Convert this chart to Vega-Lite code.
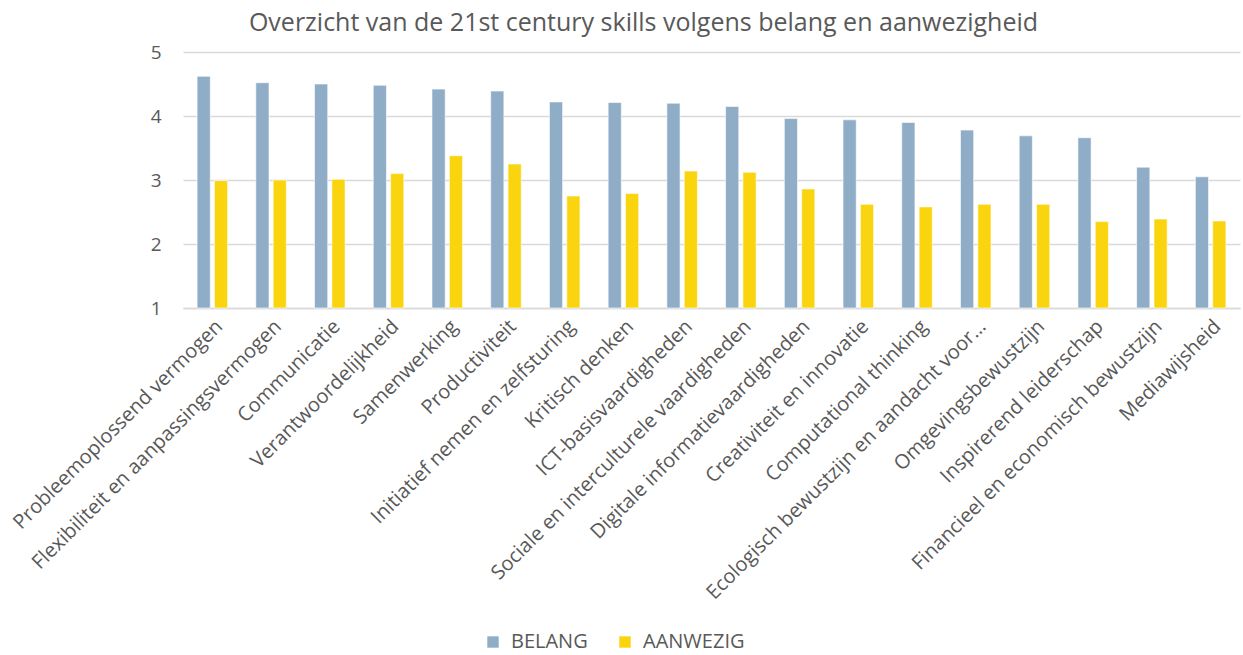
{
  "$schema": "https://vega.github.io/schema/vega-lite/v6.json",
  "autosize": {"type": "none"},
  "width": 1057,
  "height": 256,
  "padding": {"left": 183, "top": 52, "right": 3, "bottom": 347},
  "background": "white",
  "config": {
    "view": {"stroke": null},
    "font": "Open Sans"
  },
  "title": {
    "text": "Overzicht van de 21st century skills volgens belang en aanwezigheid",
    "fontSize": 25,
    "fontWeight": "normal",
    "color": "#595959",
    "font": "Open Sans",
    "anchor": "middle",
    "frame": "group",
    "dx": -68,
    "offset": 7
  },
  "data": {
    "values": [
      {"skill": "Probleemoplossend vermogen", "reeks": "BELANG", "waarde": 4.62},
      {"skill": "Probleemoplossend vermogen", "reeks": "AANWEZIG", "waarde": 2.99},
      {"skill": "Flexibiliteit en aanpassingsvermogen", "reeks": "BELANG", "waarde": 4.52},
      {"skill": "Flexibiliteit en aanpassingsvermogen", "reeks": "AANWEZIG", "waarde": 3.0},
      {"skill": "Communicatie", "reeks": "BELANG", "waarde": 4.5},
      {"skill": "Communicatie", "reeks": "AANWEZIG", "waarde": 3.01},
      {"skill": "Verantwoordelijkheid", "reeks": "BELANG", "waarde": 4.48},
      {"skill": "Verantwoordelijkheid", "reeks": "AANWEZIG", "waarde": 3.1},
      {"skill": "Samenwerking", "reeks": "BELANG", "waarde": 4.42},
      {"skill": "Samenwerking", "reeks": "AANWEZIG", "waarde": 3.38},
      {"skill": "Productiviteit", "reeks": "BELANG", "waarde": 4.39},
      {"skill": "Productiviteit", "reeks": "AANWEZIG", "waarde": 3.25},
      {"skill": "Initiatief nemen en zelfsturing", "reeks": "BELANG", "waarde": 4.22},
      {"skill": "Initiatief nemen en zelfsturing", "reeks": "AANWEZIG", "waarde": 2.75},
      {"skill": "Kritisch denken", "reeks": "BELANG", "waarde": 4.21},
      {"skill": "Kritisch denken", "reeks": "AANWEZIG", "waarde": 2.79},
      {"skill": "ICT-basisvaardigheden", "reeks": "BELANG", "waarde": 4.2},
      {"skill": "ICT-basisvaardigheden", "reeks": "AANWEZIG", "waarde": 3.14},
      {"skill": "Sociale en interculturele vaardigheden", "reeks": "BELANG", "waarde": 4.15},
      {"skill": "Sociale en interculturele vaardigheden", "reeks": "AANWEZIG", "waarde": 3.12},
      {"skill": "Digitale informatievaardigheden", "reeks": "BELANG", "waarde": 3.96},
      {"skill": "Digitale informatievaardigheden", "reeks": "AANWEZIG", "waarde": 2.86},
      {"skill": "Creativiteit en innovatie", "reeks": "BELANG", "waarde": 3.94},
      {"skill": "Creativiteit en innovatie", "reeks": "AANWEZIG", "waarde": 2.62},
      {"skill": "Computational thinking", "reeks": "BELANG", "waarde": 3.9},
      {"skill": "Computational thinking", "reeks": "AANWEZIG", "waarde": 2.58},
      {"skill": "Ecologisch bewustzijn en aandacht voor…", "reeks": "BELANG", "waarde": 3.78},
      {"skill": "Ecologisch bewustzijn en aandacht voor…", "reeks": "AANWEZIG", "waarde": 2.62},
      {"skill": "Omgevingsbewustzijn", "reeks": "BELANG", "waarde": 3.69},
      {"skill": "Omgevingsbewustzijn", "reeks": "AANWEZIG", "waarde": 2.62},
      {"skill": "Inspirerend leiderschap", "reeks": "BELANG", "waarde": 3.66},
      {"skill": "Inspirerend leiderschap", "reeks": "AANWEZIG", "waarde": 2.35},
      {"skill": "Financieel en economisch bewustzijn", "reeks": "BELANG", "waarde": 3.2},
      {"skill": "Financieel en economisch bewustzijn", "reeks": "AANWEZIG", "waarde": 2.39},
      {"skill": "Mediawijsheid", "reeks": "BELANG", "waarde": 3.05},
      {"skill": "Mediawijsheid", "reeks": "AANWEZIG", "waarde": 2.36}
    ]
  },
  "mark": {"type": "bar", "stroke": "white", "strokeWidth": 0.6},
  "encoding": {
    "x": {
      "field": "skill",
      "type": "nominal",
      "sort": null,
      "scale": {"paddingInner": 0.48, "paddingOuter": 0.24},
      "axis": {
        "title": null,
        "labelAngle": -45,
        "labelFontSize": 20,
        "labelColor": "#595959",
        "labelFont": "Open Sans",
        "labelPadding": 8,
        "ticks": false,
        "domainColor": "#d9d9d9",
        "domainWidth": 1.3,
        "labelLimit": 500
      }
    },
    "xOffset": {
      "field": "reeks",
      "type": "nominal",
      "sort": ["BELANG", "AANWEZIG"],
      "scale": {"paddingInner": 0.24}
    },
    "y": {
      "field": "waarde",
      "type": "quantitative",
      "scale": {"domain": [1, 5], "zero": false, "nice": false},
      "axis": {
        "title": null,
        "values": [1, 2, 3, 4, 5],
        "labelFontSize": 19,
        "labelColor": "#595959",
        "labelFont": "Open Sans",
        "labelPadding": 22,
        "ticks": false,
        "domain": false,
        "gridColor": "#d9d9d9",
        "gridWidth": 1.3
      }
    },
    "y2": {"datum": 1},
    "color": {
      "field": "reeks",
      "type": "nominal",
      "sort": ["BELANG", "AANWEZIG"],
      "scale": {"domain": ["BELANG", "AANWEZIG"], "range": ["#8fadc7", "#fad50f"]},
      "legend": {
        "title": null,
        "orient": "none",
        "direction": "horizontal",
        "legendX": 300,
        "legendY": 580,
        "symbolType": "square",
        "symbolSize": 130,
        "symbolStrokeWidth": 0,
        "labelFontSize": 20,
        "labelColor": "#595959",
        "labelFont": "Open Sans",
        "columnPadding": 27,
        "labelOffset": 8
      }
    }
  }
}
